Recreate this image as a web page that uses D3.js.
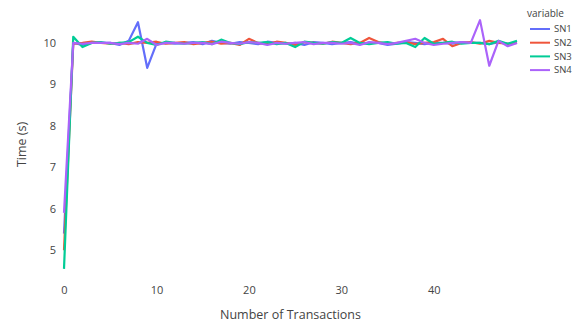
<!DOCTYPE html>
<html>
<head>
<meta charset="utf-8">
<script src="https://cdn.jsdelivr.net/npm/d3@7"></script>
<style>
  body { margin: 0; background: #fff; }
  text { font-family: "Open Sans", "Noto Sans", sans-serif; fill: #444; }
</style>
</head>
<body>
<div class="box"></div>
<script>
const dims = {width: 584, height: 326, left: 64, right: 517, top: 16, bottom: 273};

// données
const transactions = d3.range(50);
const series = ['SN1', 'SN2', 'SN3', 'SN4'];
const couleurs = ['#636efa', '#EF553B', '#00cc96', '#ab63fa'];

const sn1 = [5.4, 10.0, 9.95, 10.0, 10.0, 10.0, 9.95, 10.05, 10.5, 9.4,
             9.98, 10.0, 9.98, 10.0, 10.02, 9.97, 10.05, 10.0, 9.98, 10.02,
             10.0, 9.97, 10.03, 10.0, 9.98, 10.0, 9.95, 10.02, 10.0, 9.97,
             10.0, 10.02, 9.98, 10.0, 10.0, 9.95, 9.98, 10.02, 10.0, 9.97,
             10.0, 10.0, 9.98, 10.02, 10.0, 10.0, 9.97, 10.02, 9.98, 10.0];
const sn2 = [5.0, 9.98, 10.0, 10.03, 10.0, 9.98, 10.0, 9.97, 10.02, 10.0,
             10.03, 9.98, 10.0, 10.02, 9.97, 10.0, 10.03, 9.98, 10.0, 9.95,
             10.1, 10.0, 9.97, 10.03, 10.0, 9.95, 10.02, 10.0, 9.98, 10.03,
             10.0, 9.97, 10.0, 10.12, 10.02, 9.98, 10.0, 10.02, 9.97, 10.0,
             10.02, 10.1, 9.92, 10.0, 10.02, 9.98, 10.05, 10.0, 9.98, 10.0];
const sn3 = [4.55, 10.15, 9.9, 10.0, 10.02, 9.98, 10.0, 10.02, 10.15, 10.0,
             9.95, 10.03, 10.0, 9.98, 10.0, 10.02, 9.97, 10.08, 10.0, 9.97,
             10.02, 10.0, 10.02, 9.97, 10.0, 9.9, 10.03, 10.0, 9.98, 10.02,
             10.0, 10.12, 10.0, 9.97, 10.0, 10.02, 9.98, 10.0, 9.9, 10.12,
             9.98, 10.0, 10.03, 9.98, 10.0, 10.0, 9.97, 10.05, 9.98, 10.05];
const sn4 = [5.9, 10.0, 9.98, 10.0, 10.0, 10.0, 9.97, 10.0, 9.98, 10.1,
             9.95, 10.0, 10.0, 9.98, 10.0, 10.0, 9.97, 10.03, 10.0, 9.98,
             10.02, 10.0, 9.95, 10.0, 9.98, 10.0, 10.02, 9.97, 10.0, 10.0,
             9.98, 10.0, 9.95, 10.02, 10.0, 9.97, 10.0, 10.05, 10.1, 10.0,
             9.95, 9.98, 10.0, 10.02, 10.0, 10.55, 9.45, 10.05, 9.92, 10.0];

const xTicks = [0, 10, 20, 30, 40];
const yTicks = [5, 6, 7, 8, 9, 10];

const donnees = [sn1, sn2, sn3, sn4];

const svg = d3.select('.box')
              .append('svg')
              .attr('width', dims.width)
              .attr('height', dims.height);

const x = d3.scaleLinear().domain([0, 49]).range([dims.left, dims.right]);
const y = d3.scaleLinear().domain([4.45, 10.65]).range([dims.bottom, dims.top]);

const couleur = d3.scaleOrdinal().domain(series).range(couleurs);

// axes
const xAxis = svg.append('g')
                 .attr('transform', `translate(0, ${dims.bottom + 7})`)
                 .call(d3.axisBottom(x).tickValues(xTicks).tickFormat(d3.format('d'))
                         .tickSize(0).tickPadding(6));
const yAxis = svg.append('g')
                 .attr('transform', `translate(${dims.left - 8}, 0)`)
                 .call(d3.axisLeft(y).tickValues(yTicks).tickFormat(d3.format('d'))
                         .tickSize(0).tickPadding(0));

[xAxis, yAxis].forEach(a => {
    a.select('.domain').remove();
    a.selectAll('text').style('font-size', '11px').attr('fill', '#444');
});

svg.append('text')
   .attr('x', (dims.left + dims.right) / 2)
   .attr('y', 319)
   .attr('text-anchor', 'middle')
   .style('font-size', '12.5px')
   .text('Number of Transactions');

svg.append('text')
   .attr('transform', `translate(26, ${(dims.top + dims.bottom) / 2}) rotate(-90)`)
   .attr('text-anchor', 'middle')
   .style('font-size', '12.5px')
   .text('Time (s)');

// lignes
const ligne = d3.line()
                .x((d, i) => x(transactions[i]))
                .y(d => y(d));

svg.append('g')
   .selectAll('path')
   .data(donnees)
   .enter()
   .append('path')
   .attr('d', ligne)
   .attr('fill', 'none')
   .attr('stroke', (d, i) => couleur(series[i]))
   .attr('stroke-width', 2.2)
   .attr('stroke-linejoin', 'round');

// légende
const legende = svg.append('g').attr('transform', 'translate(527, 0)');

legende.append('text')
       .attr('x', 0)
       .attr('y', 17)
       .style('font-size', '10px')
       .text('variable');

const items = legende.selectAll('g.item')
                     .data(series)
                     .enter()
                     .append('g')
                     .attr('class', 'item')
                     .attr('transform', (d, i) => `translate(0, ${29 + i * 13.7})`);

items.append('line')
     .attr('x1', 3).attr('x2', 23)
     .attr('stroke', d => couleur(d))
     .attr('stroke-width', 2);

items.append('text')
     .attr('x', 27)
     .attr('dy', '0.35em')
     .style('font-size', '9.5px')
     .text(d => d);
</script>
</body>
</html>
